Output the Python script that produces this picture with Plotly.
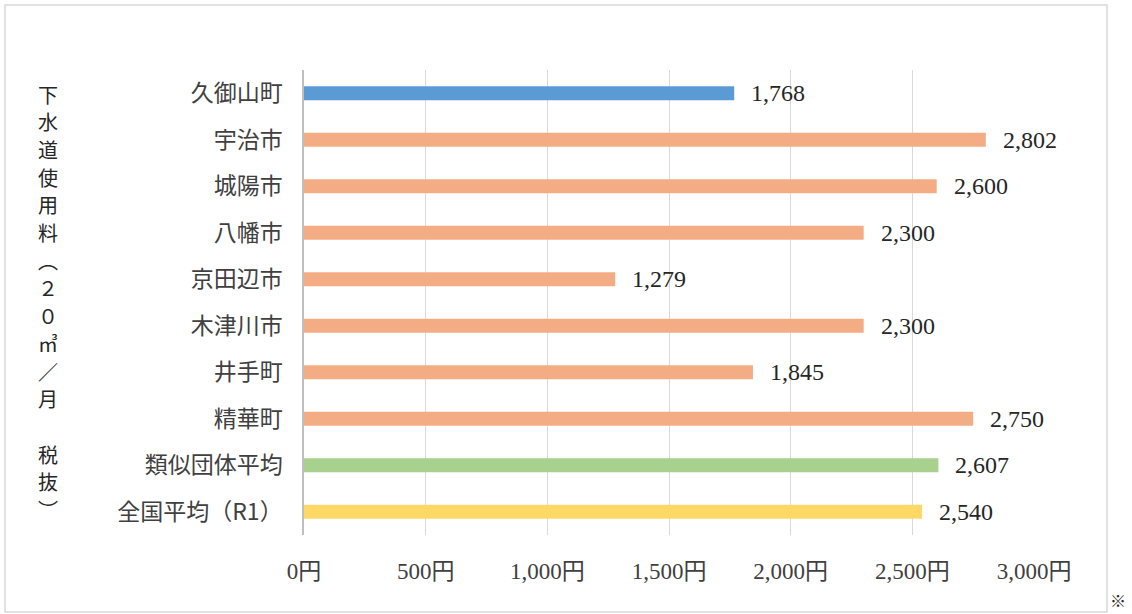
import plotly.graph_objects as go

categories = ["久御山町", "宇治市", "城陽市", "八幡市", "京田辺市", "木津川市", "井手町", "精華町", "類似団体平均", "全国平均（R1）"]
values = [1768, 2802, 2600, 2300, 1279, 2300, 1845, 2750, 2607, 2540]
bar_colors = ["#5B9BD5"] + ["#F4AC84"] * 7 + ["#A9D18E", "#FFD966"]
tick_vals = [0, 500, 1000, 1500, 2000, 2500, 3000]
tick_text = ["0円", "500円", "1,000円", "1,500円", "2,000円", "2,500円", "3,000円"]
y_title = "下水道使用料︵２０㎥／月　税抜︶"

FONT = "Liberation Serif, Noto Sans CJK JP, serif"
W, H = 1132, 614
L, R, T, B = 304, 98, 70, 79
PW, PH = W - L - R, H - T - B


def px(x):
    return (x - L) / PW


def py(y):
    return (H - B - y) / PH


fig = go.Figure()
fig.add_trace(go.Bar(
    y=categories, x=values, orientation="h",
    marker=dict(color=bar_colors, line=dict(width=0)),
    width=0.3, hoverinfo="x+y",
))

for c, v in zip(categories, values):
    fig.add_annotation(x=v, y=c, xref="x", yref="y", text=f"{v:,}",
                       showarrow=False, xanchor="left", xshift=15,
                       font=dict(family=FONT, size=24, color="#262626"))

# vertical y-axis title, one character per row
y0, step = 94, 27.7
for i, ch in enumerate(y_title):
    if ch.strip() == "" or ch == "　":
        continue
    fig.add_annotation(xref="paper", yref="paper", x=px(48), y=py(y0 + i * step),
                       text=ch, showarrow=False, xanchor="center", yanchor="middle",
                       font=dict(family="Noto Sans CJK JP", size=20, color="#262626"))

fig.add_annotation(xref="paper", yref="paper", x=px(1118), y=py(600),
                   text="※", showarrow=False, xanchor="center", yanchor="middle",
                   font=dict(family="Noto Sans CJK JP", size=16, color="#262626"))

fig.add_shape(type="rect", xref="paper", yref="paper",
              x0=px(5), x1=px(1107), y0=py(612), y1=py(5),
              line=dict(color="#D9D9D9", width=1.5), fillcolor="rgba(0,0,0,0)", layer="below")

fig.update_layout(
    width=W, height=H,
    margin=dict(l=L, r=R, t=T, b=B),
    paper_bgcolor="white", plot_bgcolor="white",
    showlegend=False,
    font=dict(family=FONT, size=24, color="#404040"),
    xaxis=dict(range=[0, 3000], tickvals=tick_vals, ticktext=tick_text,
               showgrid=True, gridcolor="#D9D9D9", gridwidth=1.2, zeroline=False,
               showline=False, ticks="", tickfont=dict(family=FONT, size=23, color="#404040"),
               ticklabelstandoff=20),
    yaxis=dict(categoryorder="array", categoryarray=categories, autorange="reversed",
               showline=True, linecolor="#BFBFBF", linewidth=1.5, showgrid=False,
               ticks="", ticklabelstandoff=15,
               tickfont=dict(family="Noto Sans CJK JP", size=23, color="#404040")),
)

fig.write_html("out.html", config={"displayModeBar": False},
               post_script="document.body.style.margin='0px';")
